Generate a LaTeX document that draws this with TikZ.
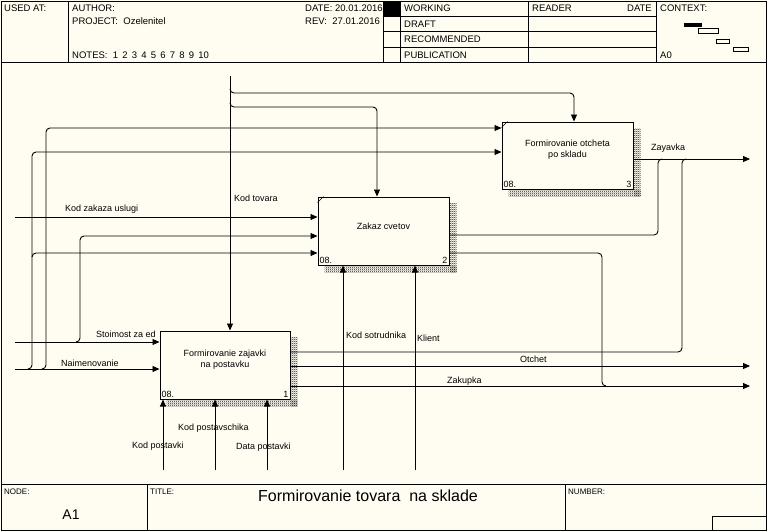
\documentclass[tikz,border=0pt]{standalone}
\usepackage{fontspec}
\setmainfont{Liberation Sans}
\usepackage{tikz}
\usetikzlibrary{arrows.meta,positioning,calc,patterns}
\definecolor{paper}{RGB}{255,252,242}
\newcommand{\arrfont}{\fontsize{9}{11}\selectfont}
\newcommand{\hdrfont}{\fontsize{9.5}{11}\selectfont}
\newcommand{\tagfont}{\fontsize{8}{9}\selectfont}
% fine checker used for the box shadows
\pgfdeclarepatternformonly{checker}{\pgfpointorigin}{\pgfpoint{2pt}{2pt}}{\pgfpoint{2pt}{2pt}}{
    \pgfpathrectangle{\pgfpointorigin}{\pgfpoint{1pt}{1pt}}
    \pgfpathrectangle{\pgfpoint{1pt}{1pt}}{\pgfpoint{1pt}{1pt}}
    \pgfusepath{fill}
}
\tikzset{
    actbox/.style={ % activity box
        rectangle,
        fill=paper,
        draw=black,
        line width=1pt,
        minimum width=131pt,
        minimum height=68pt,
        inner sep=0pt
        },
    acttext/.style={
        align=center,
        font=\arrfont,
        inner sep=0pt
        },
    cornr/.style={ % box number, node ref
        font=\arrfont,
        inner sep=2pt
        },
    hatch/.style={
        pattern=checker,
        pattern color=black!85
        },
    arrout/.style={
        -{Triangle[length=7pt,width=6pt]},
        line width=0.9pt,
        rounded corners=4pt
        },
    arrjoin/.style={ % branch that runs into another arrow
        line width=0.9pt,
        rounded corners=4pt
        },
    arrlbl/.style={
        font=\arrfont,
        anchor=west,
        inner sep=0pt
        },
    frm/.style={
        line width=1pt
        },
    hd/.style={
        font=\hdrfont,
        anchor=west,
        inner sep=0pt
        },
    ft/.style={
        font=\tagfont,
        anchor=west,
        inner sep=0pt
        }
}

\begin{document}
\begin{tikzpicture}[x=1pt,y=-1pt]
\useasboundingbox (0,0) rectangle (767,531);
\fill[paper] (0,0) rectangle (767,531);
\draw[frm] (1,1) rectangle (766,530);

%%%%% header
\draw[frm] (1,62) -- (766,62);
\foreach \x in {68,383,400,528,656}
    \draw[frm] (\x,1) -- (\x,62);
\foreach \y in {16,31,47}
    \draw[frm] (383,\y) -- (656,\y);
\fill (383,1) rectangle (400,16);

\node[hd] (usedat) at (4,8) {USED AT:};
\node[hd] (author) at (72,8) {AUTHOR:};
\node[hd] (project) at (72,21) {PROJECT:\ \ Ozelenitel};
\node[hd] (notes) at (72,55) {NOTES:\ \ 1\ \,2\ \,3\ \,4\ \,5\ \,6\ \,7\ \,8\ \,9\ \,10};
\node[hd] (date) at (305,8) {DATE: 20.01.2016};
\node[hd] (rev) at (305,21) {REV:\ \ 27.01.2016};
\node[hd] (working) at (404,8) {WORKING};
\node[hd] (draft) at (404,24) {DRAFT};
\node[hd] (recom) at (404,39) {RECOMMENDED};
\node[hd] (publ) at (404,55) {PUBLICATION};
\node[hd] (reader) at (532,8) {READER};
\node[hd, anchor=east] (rdate) at (652,8) {DATE};
\node[hd] (context) at (660,8) {CONTEXT:};
\node[hd] (ctxnode) at (660,55) {A0};

%%%%% context map
\fill (684,23) rectangle (702,27);
\draw (698,28) rectangle (718,33);
\draw (716,39) rectangle (729,43);
\draw (733,47) rectangle (748,51);

%%%%% footer
\draw[frm] (1,484) -- (766,484);
\draw[frm] (147,484) -- (147,530);
\draw[frm] (565,484) -- (565,530);
\draw[frm] (712,530) |- (766,516);
\node[ft] (nodetag) at (4,492) {NODE:};
\node[font=\fontsize{14}{16}\selectfont] (nodeno) at (71,515) {A1};
\node[ft] (titletag) at (150,492) {TITLE:};
\node[font=\fontsize{16}{18}\selectfont] (title) at (368,496) {Formirovanie tovara\ \ na sklade};
\node[ft] (numtag) at (568,492) {NUMBER:};

%%%%% box a1
\node[actbox, minimum width=130pt] (a1) at (225,365) {};
\node[acttext] (t1) at ($(a1)+(0,-5)$) {Formirovanie zajavki\\na postavku};
\node[cornr, anchor=south west] at (a1.south west) {08.};
\node[cornr, anchor=south east] at (a1.south east) {1};
\fill[hatch] ($(a1.north east)+(0.5,7)$) rectangle ($(a1.south east)+(7,7)$);
\fill[hatch] ($(a1.south west)+(7,0.5)$) rectangle ($(a1.south east)+(7,7)$);

%%%%% box a2
\node[actbox] (a2) at (383.5,231) {};
\node[acttext] (t2) at ($(a2)+(0,-5)$) {Zakaz cvetov};
\node[cornr, anchor=south west] at (a2.south west) {08.};
\node[cornr, anchor=south east] at (a2.south east) {2};
\draw ($(a2.north west)+(0,6)$) -- ($(a2.north west)+(6,0)$);
\fill[hatch] ($(a2.north east)+(0.5,7)$) rectangle ($(a2.south east)+(7,7)$);
\fill[hatch] ($(a2.south west)+(7,0.5)$) rectangle ($(a2.south east)+(7,7)$);

%%%%% box a3
\node[actbox, minimum height=67pt] (a3) at (567.5,155.5) {};
\node[acttext] (t3) at ($(a3)+(0,-6)$) {Formirovanie otcheta\\po skladu};
\node[cornr, anchor=south west] at (a3.south west) {08.};
\node[cornr, anchor=south east] at (a3.south east) {3};
\draw ($(a3.north west)+(0,6)$) -- ($(a3.north west)+(6,0)$);
\fill[hatch] ($(a3.north east)+(0.5,7)$) rectangle ($(a3.south east)+(7,7)$);
\fill[hatch] ($(a3.south west)+(7,0.5)$) rectangle ($(a3.south east)+(7,7)$);

%%%%% inputs from the left
\coordinate (kzu) at (15,217);
\coordinate (sto) at (15,342);
\coordinate (nai) at (15,369);
\draw[arrout] (kzu) -- (kzu -| a2.west);
\draw[arrout] (sto) -- (sto -| a1.west);
\draw[arrout] (nai) -- (nai -| a1.west);

%%%%% branches of the inputs
\coordinate (j1) at (80,342);
\coordinate (j1t) at (80,236);
\coordinate (j2) at (46,369);
\coordinate (j2t) at (46,128);
\coordinate (j3) at (32,369);
\coordinate (j3t) at (32,152);
\coordinate (j3m) at (32,253);
\draw[arrout] ([xshift=-4pt]j1) -- (j1) -- (j1t) -- (j1t -| a2.west);
\draw[arrout] ([xshift=-4pt]j2) -- (j2) -- (j2t) -- (j2t -| a3.west);
\draw[arrout] ([xshift=-4pt]j3) -- (j3) -- (j3t) -- (j3t -| a3.west);
\draw[arrout] ([yshift=-4pt]j3m) -- (j3m) -- (j3m -| a2.west);

%%%%% control Kod tovara
\coordinate (kt) at (230,76);
\coordinate (k3) at (230,93);
\coordinate (k2) at (230,107);
\coordinate (a3c) at ([xshift=6.5pt]a3.north);
\coordinate (a2c) at ([xshift=-6.5pt]a2.north);
\draw[arrout] (kt) -- (kt |- a1.north);
\draw[arrout] ([yshift=4pt]k3) -- (k3) -- (k3 -| a3c) -- (a3c);
\draw[arrout] ([yshift=4pt]k2) -- (k2) -- (k2 -| a2c) -- (a2c);

%%%%% mechanisms from below
\coordinate (ksot) at (343,470);
\coordinate (kli) at (415,470);
\coordinate (kpo) at (163,470);
\coordinate (kps) at (215,470);
\coordinate (dpo) at (267,470);
\draw[arrout] (ksot) -- (ksot |- a2.south);
\draw[arrout] (kli) -- (kli |- a2.south);
\draw[arrout] (kpo) -- (kpo |- a1.south);
\draw[arrout] (kps) -- (kps |- a1.south);
\draw[arrout] (dpo) -- (dpo |- a1.south);

%%%%% outputs
\coordinate (zay) at (750,159);
\coordinate (otc) at (750,366);
\coordinate (zak) at (750,386);
\draw[arrout] (zay -| a3.east) -- (zay);
\draw[arrout] (otc -| a1.east) -- (otc);
\draw[arrout] (zak -| a1.east) -- (zak);

%%%%% outputs that run into other outputs
\coordinate (o2a) at (658,235);
\coordinate (o2at) at (658,159);
\coordinate (o1a) at (682,352);
\coordinate (o1at) at (682,159);
\coordinate (o2b) at (602,253);
\coordinate (o2bb) at (602,386);
\draw[arrjoin] (o2a -| a2.east) -- (o2a) -- (o2at) -- ([xshift=4pt]o2at);
\draw[arrjoin] (o1a -| a1.east) -- (o1a) -- (o1at) -- ([xshift=4pt]o1at);
\draw[arrjoin] (o2b -| a2.east) -- (o2b) -- (o2bb) -- ([xshift=4pt]o2bb);

%%%%% arrow labels
\node[arrlbl] (lkzu) at (65,209) {Kod zakaza uslugi};
\node[arrlbl] (lsto) at (96,334) {Stoimost za ed};
\node[arrlbl] (lnai) at (61,363) {Naimenovanie};
\node[arrlbl] (lkt) at (234,198) {Kod tovara};
\node[arrlbl] (lzay) at (651,148) {Zayavka};
\node[arrlbl] (lksot) at (346,335) {Kod sotrudnika};
\node[arrlbl] (lkli) at (417,338) {Klient};
\node[arrlbl] (lotc) at (520,359) {Otchet};
\node[arrlbl] (lzak) at (447,381) {Zakupka};
\node[arrlbl] (lkpo) at (132,446) {Kod postavki};
\node[arrlbl] (lkps) at (178,428) {Kod postavschika};
\node[arrlbl] (ldpo) at (236,447) {Data postavki};
\end{tikzpicture}
\end{document}
